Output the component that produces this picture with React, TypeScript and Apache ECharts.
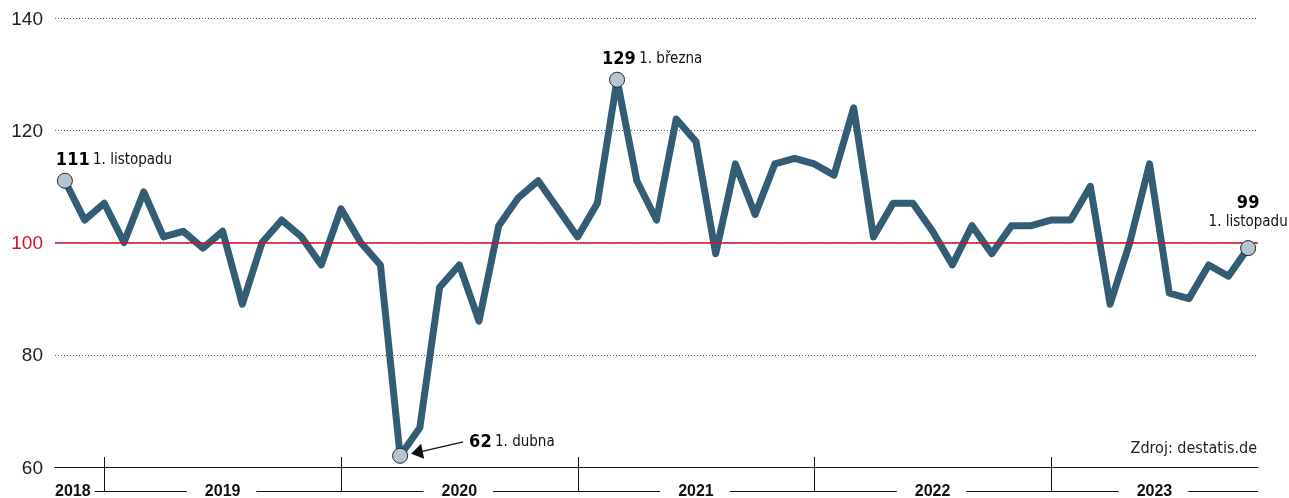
import React, { useEffect, useRef } from "react";
import * as echarts from "echarts";

// Monthly index values, Nov 2018 – Nov 2023
const values: number[] = [
  111, 104, 107, 100, 109, 101, 102, 99, 102, 89, 100, 104, 101, 96,
  106, 100, 96, 62, 67, 92, 96, 86, 103, 108, 111, 106,
  101, 107, 129, 111, 104, 122, 118, 98, 114, 105, 114, 115,
  114, 112, 124, 101, 107, 107, 102, 96, 103, 98, 103, 103,
  104, 104, 110, 89, 100, 114, 91, 90, 96, 94, 99,
];
const years: string[] = ["2018", "2019", "2020", "2021", "2022", "2023"];
// index of first month (January) of each year after 2018
const yearStarts: number[] = [2, 14, 26, 38, 50];
const yTicks: number[] = [60, 80, 100, 120, 140];
const referenceValue = 100;
const sourceText = "Zdroj: destatis.de";

type Note = { i: number; num: string; date: string; kind: "left" | "stack" | "arrow" };
const notes: Note[] = [
  { i: 0, num: "111", date: "1. listopadu", kind: "left" },
  { i: 17, num: "62", date: "1. dubna", kind: "arrow" },
  { i: 28, num: "129", date: "1. března", kind: "left" },
  { i: 60, num: "99", date: "1. listopadu", kind: "stack" },
];

const NARROW = "'Liberation Sans Narrow', 'DejaVu Sans Condensed', 'Roboto Condensed', sans-serif";
const SANS = "'Liberation Sans', Roboto, Arial, sans-serif";
const LINE = "#335d74";
const RED = "#d4102a";

function measure(text: string, font: string): number {
  const c = document.createElement("canvas");
  const ctx = c.getContext("2d")!;
  ctx.font = font;
  return ctx.measureText(text).width;
}

export default function App() {
  const ref = useRef<HTMLDivElement>(null);
  useEffect(() => {
    if (!ref.current) return;
    const chart = echarts.init(ref.current, null, { renderer: "svg" });
    const rich = {
      b: { fontFamily: NARROW, fontWeight: "bold" as const, fontSize: 18, color: "#000", lineHeight: 20, align: "center" as const },
      r: { fontFamily: NARROW, fontSize: 15, color: "#111", lineHeight: 20, align: "center" as const },
    };
    const scatterData = notes.map((n) => {
      let label: any = { show: true, rich };
      if (n.kind === "left") {
        label = { ...label, position: "top", align: "left", offset: [n.i === 0 ? -9 : -15, 0], distance: 4, formatter: `{b|${n.num}} {r|${n.date}}` };
      } else if (n.kind === "stack") {
        label = { ...label, position: "top", align: "center", distance: 9, formatter: `{b|${n.num}}\n{r|${n.date}}` };
      } else {
        label = { ...label, position: "right", align: "left", offset: [56, -15], formatter: `{b|${n.num}} {r|${n.date}}` };
      }
      return { value: [n.i, values[n.i]], label };
    });

    chart.setOption({
      animation: false,
      grid: { left: 55, right: 31, top: 18, bottom: 31 },
      xAxis: {
        type: "value",
        min: -0.5,
        max: values.length - 0.5,
        axisLine: { show: true, lineStyle: { color: "#111", width: 1.2 } },
        axisTick: { show: false },
        axisLabel: { show: false },
        splitLine: { show: false },
      },
      yAxis: {
        type: "value",
        min: yTicks[0],
        max: yTicks[yTicks.length - 1],
        interval: 20,
        axisLine: { show: false },
        axisTick: { show: false },
        axisLabel: {
          margin: 12,
          formatter: (v: number) => (v === referenceValue ? `{red|${v}}` : `{n|${v}}`),
          rich: {
            n: { fontFamily: SANS, fontSize: 19, color: "#222" },
            red: { fontFamily: SANS, fontSize: 19, color: RED },
          },
        },
        splitLine: { show: true, lineStyle: { color: "#555", width: 1, type: [1, 2] } },
      },
      series: [
        {
          type: "line",
          data: [],
          z: 1,
          markLine: {
            silent: true,
            symbol: "none",
            label: { show: false },
            lineStyle: { color: RED, width: 1.5, type: "solid" },
            data: [{ yAxis: referenceValue }],
          },
        },
        {
          type: "line",
          z: 3,
          data: values.map((v, i) => [i, v]),
          symbol: "none",
          lineStyle: { color: LINE, width: 7, join: "round", cap: "round" },
        },
        {
          type: "scatter",
          z: 5,
          symbol: "circle",
          symbolSize: 15,
          itemStyle: { color: "#b3c5d2", borderColor: "#222", borderWidth: 1, opacity: 1 },
          data: scatterData,
        },
      ],
    });

    const px = (x: number, y: number) => chart.convertToPixel({ gridIndex: 0 }, [x, y]) as number[];
    const axisY = px(0, yTicks[0])[1];
    const leftX = px(-0.5, yTicks[0])[0];
    const rightX = px(values.length - 0.5, yTicks[0])[0];
    const lowerY = axisY + 24.5;
    const graphics: any[] = [];
    const stroke = { stroke: "#111", lineWidth: 1 };

    yearStarts.forEach((s) => {
      const x = Math.round(px(s, yTicks[0])[0]) + 0.5;
      graphics.push({ type: "line", shape: { x1: x, y1: axisY - 10, x2: x, y2: lowerY }, style: stroke, silent: true });
    });

    const bounds = [leftX, ...yearStarts.map((s) => px(s, yTicks[0])[0]), rightX];
    const yearFont = `bold 16px ${SANS}`;
    const spans: { l: number; r: number }[] = [];
    years.forEach((y, k) => {
      const w = measure(y, yearFont);
      let cx: number;
      if (k === 0) cx = leftX + w / 2;
      else cx = (bounds[k] + bounds[k + 1]) / 2;
      spans.push({ l: cx - w / 2, r: cx + w / 2 });
      graphics.push({
        type: "text",
        x: cx,
        y: lowerY - 1.5,
        silent: true,
        style: { text: y, font: yearFont, fill: "#111", textAlign: "center", textVerticalAlign: "middle" },
      });
    });
    for (let k = 0; k < spans.length; k++) {
      const start = spans[k].r + (k === 0 ? 4 : 16);
      const end = k + 1 < spans.length ? spans[k + 1].l - 18 : rightX;
      graphics.push({ type: "line", shape: { x1: start, y1: lowerY, x2: end, y2: lowerY }, style: stroke, silent: true });
    }

    // arrow for the minimum
    const arrowNote = notes.find((n) => n.kind === "arrow")!;
    const p = px(arrowNote.i, values[arrowNote.i]);
    graphics.push({
      type: "line",
      shape: { x1: p[0] + 20, y1: p[1] - 4, x2: p[0] + 63, y2: p[1] - 14 },
      style: { stroke: "#111", lineWidth: 1.3 },
      silent: true,
    });
    graphics.push({
      type: "polygon",
      shape: { points: [[p[0] + 11, p[1] - 2], [p[0] + 21, p[1] - 12], [p[0] + 24, p[1] + 3]] },
      style: { fill: "#111" },
      silent: true,
    });

    graphics.push({
      type: "text",
      x: rightX - 1,
      y: axisY - 20,
      silent: true,
      style: { text: sourceText, font: `16px ${NARROW}`, fill: "#222", textAlign: "right", textVerticalAlign: "middle" },
    });

    chart.setOption({ graphic: graphics });

    return () => chart.dispose();
  }, []);

  return <div ref={ref} style={{ position: "fixed", left: 0, top: 0, width: 1289, height: 498 }} />;
}
